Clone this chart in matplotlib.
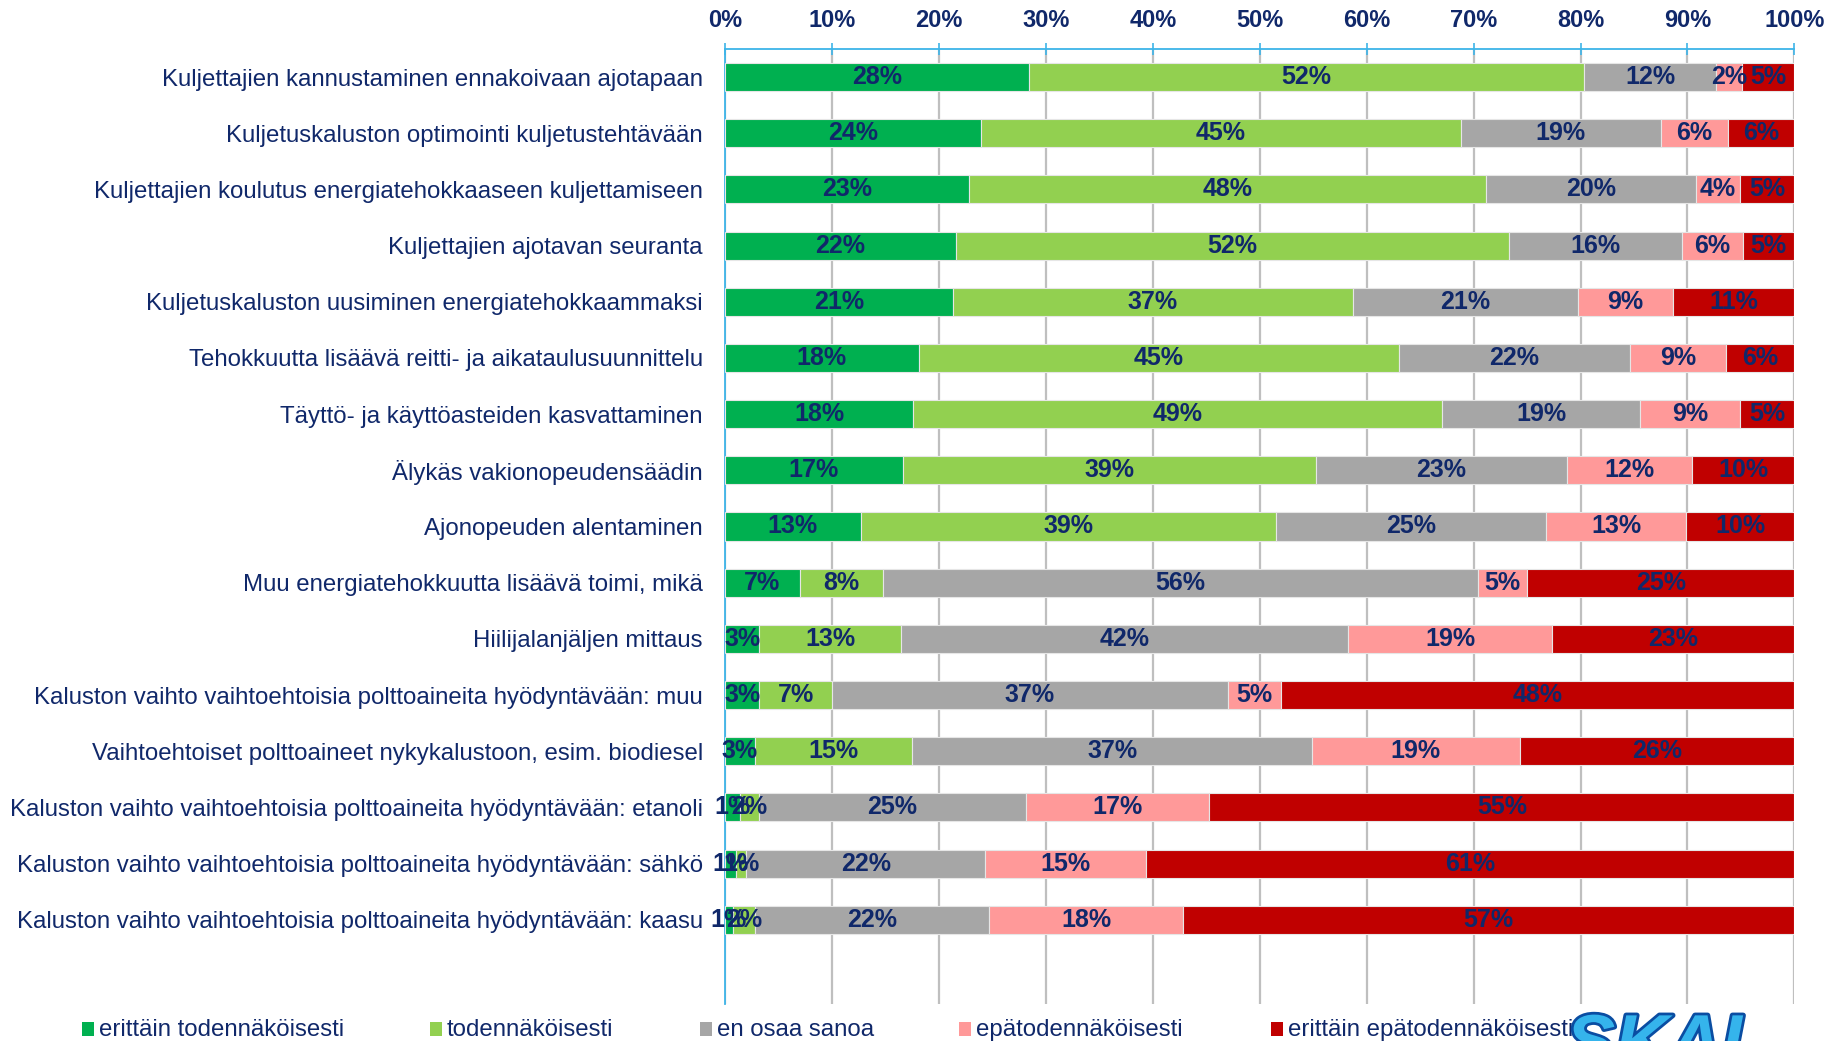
import matplotlib.pyplot as plt
import matplotlib.patches as patches
import matplotlib.patheffects as pe
import numpy as np

plt.rcParams['font.family'] = ['Liberation Sans', 'DejaVu Sans']

NAVY = '#10286A'
AXIS_BLUE = '#3DB4E8'

categories = [
    'Kuljettajien kannustaminen ennakoivaan ajotapaan',
    'Kuljetuskaluston optimointi kuljetustehtävään',
    'Kuljettajien koulutus energiatehokkaaseen kuljettamiseen',
    'Kuljettajien ajotavan seuranta',
    'Kuljetuskaluston uusiminen energiatehokkaammaksi',
    'Tehokkuutta lisäävä reitti- ja aikataulusuunnittelu',
    'Täyttö- ja käyttöasteiden kasvattaminen',
    'Älykäs vakionopeudensäädin',
    'Ajonopeuden alentaminen',
    'Muu energiatehokkuutta lisäävä toimi, mikä',
    'Hiilijalanjäljen mittaus',
    'Kaluston vaihto vaihtoehtoisia polttoaineita hyödyntävään: muu',
    'Vaihtoehtoiset polttoaineet nykykalustoon, esim. biodiesel',
    'Kaluston vaihto vaihtoehtoisia polttoaineita hyödyntävään: etanoli',
    'Kaluston vaihto vaihtoehtoisia polttoaineita hyödyntävään: sähkö',
    'Kaluston vaihto vaihtoehtoisia polttoaineita hyödyntävään: kaasu',
]

series_names = ['erittäin todennäköisesti', 'todennäköisesti', 'en osaa sanoa',
                'epätodennäköisesti', 'erittäin epätodennäköisesti']

# prosentit, luettu kuvasta
very_likely = [28.4, 23.9, 22.8, 21.6, 21.3, 18.1, 17.6, 16.6, 12.7, 7.0, 3.2, 3.2, 2.8, 1.4, 1.0, 0.7]
likely = [51.9, 44.9, 48.4, 51.7, 37.4, 44.9, 49.4, 38.7, 38.8, 7.8, 13.3, 6.8, 14.7, 1.8, 1.0, 2.1]
dont_know = [12.4, 18.7, 19.6, 16.2, 21.1, 21.6, 18.6, 23.4, 25.3, 55.6, 41.8, 37.0, 37.4, 24.9, 22.3, 21.9]
unlikely = [2.4, 6.3, 4.1, 5.7, 8.8, 9.0, 9.3, 11.7, 13.1, 4.6, 19.0, 5.0, 19.4, 17.2, 15.1, 18.1]
very_unlikely = [4.9, 6.2, 5.1, 4.8, 11.4, 6.4, 5.1, 9.6, 10.1, 25.0, 22.7, 48.0, 25.7, 54.7, 60.6, 57.2]

colors = ['#00B050', '#92D050', '#A6A6A6', '#FF9999', '#C00000']

fig = plt.figure(figsize=(18.29, 10.41), dpi=100)
ax = fig.add_axes([0.3964, 0.0355, 0.5847, 0.9175])

y = np.arange(len(categories))
left = np.zeros(len(categories))
for name, vals, col in zip(series_names,
                           [very_likely, likely, dont_know, unlikely, very_unlikely],
                           colors):
    bars = ax.barh(y, vals, left=left, height=0.5, color=col,
                   edgecolor='#E6E6E6', linewidth=0.8, label=name, zorder=3)
    ax.bar_label(bars, labels=[f'{v:.0f}%' for v in vals], label_type='center',
                 fontsize=18, fontweight='bold', color=NAVY, zorder=4)
    left += np.array(vals)

ax.set_xlim(0, 100)
ax.set_ylim(16.5, -0.5)
ax.set_yticks(y)
ax.set_yticklabels(categories, fontsize=17.3, color=NAVY)
ax.set_xticks(np.arange(0, 101, 10))
ax.set_xticklabels([f'{t}%' for t in range(0, 101, 10)],
                   fontsize=17, fontweight='bold', color=NAVY)
ax.xaxis.tick_top()
ax.tick_params(axis='x', direction='inout', length=9, width=1.2,
               color=AXIS_BLUE, pad=8)
ax.tick_params(axis='y', length=0, pad=16)

ax.grid(axis='x', color='#BFBFBF', linewidth=1.6, zorder=0)
ax.set_axisbelow(True)
for side in ['right', 'bottom']:
    ax.spines[side].set_visible(False)
ax.spines['top'].set_color(AXIS_BLUE)
ax.spines['top'].set_linewidth(1.3)
ax.spines['left'].set_color(AXIS_BLUE)
ax.spines['left'].set_linewidth(1.3)

# selite alareunassa
legend_x = [82, 430, 700, 959, 1271]
for xpos, name, col in zip(legend_x, series_names, colors):
    fig.add_artist(patches.Rectangle((xpos / 1829, 1 - 1036 / 1041), 12 / 1829, 14 / 1041,
                                     transform=fig.transFigure, facecolor=col,
                                     edgecolor='none'))
    fig.text((xpos + 17) / 1829, 1 - 1030 / 1041, name, fontsize=17.3,
             color=NAVY, va='center', ha='left')

# logo (vain yläosa näkyy)
fig.text(1566 / 1829, 1 - 1066 / 1041, 'SKAL', fontsize=53, fontweight='bold',
         style='italic', color='#35B4EC', ha='left', va='baseline',
         path_effects=[pe.withStroke(linewidth=4, foreground='#0A4DA2')])

fig.savefig('out.png', dpi=100)
